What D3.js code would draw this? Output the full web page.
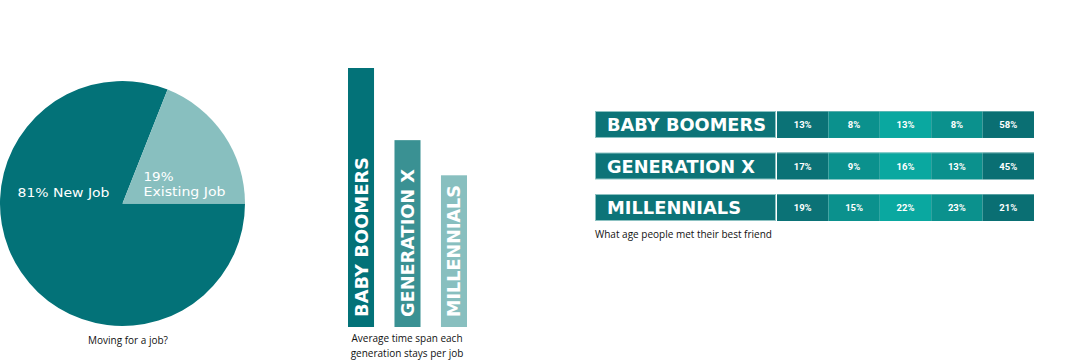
<!DOCTYPE html>
<html><head><meta charset="utf-8">
<script src="https://cdn.jsdelivr.net/npm/d3@7"></script>
<style>html,body{margin:0;padding:0;background:#fff;}svg{display:block;}</style>
</head><body>
<svg id="c" width="1076" height="361"></svg>
<script>
// ---- data ----
const pieLabels = ["New Job", "Existing Job"];
const pieValues = [81, 19];

const generations = ["BABY BOOMERS", "GENERATION X", "MILLENNIALS"];
const tenureValues = [7.0, 5.05, 4.1]; // relative time span per job (estimated)

const friendAgeBands = ["a", "b", "c", "d", "e"];
const friendBoomers = [13, 8, 13, 8, 58];
const friendGenX = [17, 9, 16, 13, 45];
const friendMillennials = [19, 15, 22, 23, 21];
const friendRows = [friendBoomers, friendGenX, friendMillennials];

const svg = d3.select("#c");
const headFont = "'DejaVu Sans', Verdana, sans-serif";
const bodyFont = "'Open Sans', 'Liberation Sans', sans-serif";

// ---- pie ----
const pieColors = ["#037278", "#88bfbf"];
const pieGen = d3.pie().sort(null)
  .startAngle(Math.PI/2)
  .endAngle(Math.PI/2 + 2*Math.PI);
const arcs = pieGen(pieValues);
const arc = d3.arc().innerRadius(0).outerRadius(122.5);
const gp = svg.append("g").attr("transform", "translate(122.5,203.5)");
gp.selectAll("path").data(arcs).join("path")
  .attr("d", arc).attr("fill", (d,i) => pieColors[i]);
gp.append("text").attr("x", -105).attr("y", -7)
  .attr("fill", "#fff").attr("font-family", headFont).attr("font-size", 13)
  .attr("textLength", 92).attr("lengthAdjust", "spacingAndGlyphs")
  .text(pieValues[0] + "% " + pieLabels[0]);
gp.append("text").attr("x", 21).attr("y", -23)
  .attr("fill", "#fff").attr("font-family", headFont).attr("font-size", 13)
  .attr("textLength", 30).attr("lengthAdjust", "spacingAndGlyphs")
  .text(pieValues[1] + "%");
gp.append("text").attr("x", 21).attr("y", -8)
  .attr("fill", "#fff").attr("font-family", headFont).attr("font-size", 13)
  .attr("textLength", 82).attr("lengthAdjust", "spacingAndGlyphs")
  .text(pieLabels[1]);
svg.append("text").attr("x", 128).attr("y", 344).attr("text-anchor", "middle")
  .attr("font-family", bodyFont).attr("font-size", 10).attr("fill", "#111")
  .text("Moving for a job?");

// ---- vertical bars ----
const barColors = ["#037278", "#3a9193", "#88bfbf"];
const bx = d3.scaleBand().domain(generations).range([348, 467]).paddingInner(0.44).paddingOuter(0);
const by = d3.scaleLinear().domain([0, d3.max(tenureValues)]).range([327, 68]);
const labLen = [160, 148, 132];
const gb = svg.append("g");
gb.selectAll("rect").data(generations).join("rect")
  .attr("x", d => bx(d)).attr("width", bx.bandwidth())
  .attr("y", (d,i) => by(tenureValues[i])).attr("height", (d,i) => by(0) - by(tenureValues[i]))
  .attr("fill", (d,i) => barColors[i]);
gb.selectAll("text").data(generations).join("text")
  .attr("transform", d => `translate(${bx(d) + bx.bandwidth()/2 + 6.5},317) rotate(-90)`)
  .attr("fill", "#fff").attr("font-family", headFont).attr("font-weight", "bold").attr("font-size", 17.5)
  .attr("textLength", (d,i) => labLen[i]).attr("lengthAdjust", "spacingAndGlyphs")
  .text(d => d);
svg.append("text").attr("x", 407).attr("y", 342).attr("text-anchor", "middle")
  .attr("font-family", bodyFont).attr("font-size", 10).attr("fill", "#111").text("Average time span each");
svg.append("text").attr("x", 407).attr("y", 357).attr("text-anchor", "middle")
  .attr("font-family", bodyFont).attr("font-size", 10).attr("fill", "#111").text("generation stays per job");

// ---- friend table ----
const segColors = ["#0b7276", "#0b918d", "#0aa8a0", "#0b918d", "#0a6f73"];
const ry = d3.scaleBand().domain(generations).range([111, 221]).paddingInner(0.35);
const cx = d3.scaleBand().domain(friendAgeBands).range([777, 1034]);
const rowLabLen = [159, 148, 134];
const gt = svg.append("g");
generations.forEach((g, i) => {
  const y0 = ry(g), h = ry.bandwidth();
  gt.append("rect").attr("x", 595.5).attr("y", y0 + 0.5).attr("width", 180).attr("height", h - 1)
    .attr("fill", "#0d7478").attr("stroke", "#8cc2c2").attr("stroke-width", 1);
  gt.append("text").attr("x", 607).attr("y", y0 + h/2 + 6.5)
    .attr("fill", "#fff").attr("font-family", headFont).attr("font-weight", "bold").attr("font-size", 18)
    .attr("textLength", rowLabLen[i]).attr("lengthAdjust", "spacingAndGlyphs")
    .text(g);
  gt.selectAll(null).data(friendRows[i]).join("rect")
    .attr("x", (d,j) => cx(friendAgeBands[j])).attr("width", cx.bandwidth())
    .attr("y", y0).attr("height", h)
    .attr("fill", (d,j) => segColors[j]);
  gt.append("line").attr("x1", 777).attr("x2", 1034).attr("y1", y0 + 0.5).attr("y2", y0 + 0.5)
    .attr("stroke", "#8cc2c2").attr("stroke-opacity", 0.6);
  gt.selectAll(null).data(friendRows[i]).join("text")
    .attr("x", (d,j) => cx(friendAgeBands[j]) + cx.bandwidth()/2).attr("y", y0 + h/2 + 3.5)
    .attr("text-anchor", "middle").attr("fill", "#fff")
    .attr("font-family", "'Liberation Sans Narrow', 'Roboto', sans-serif").attr("font-weight", "bold").attr("font-size", 9.5)
    .text(d => d + "%");
});
svg.append("text").attr("x", 595).attr("y", 238)
  .attr("font-family", bodyFont).attr("font-size", 10).attr("fill", "#111")
  .text("What age people met their best friend");
</script>
</body></html>
